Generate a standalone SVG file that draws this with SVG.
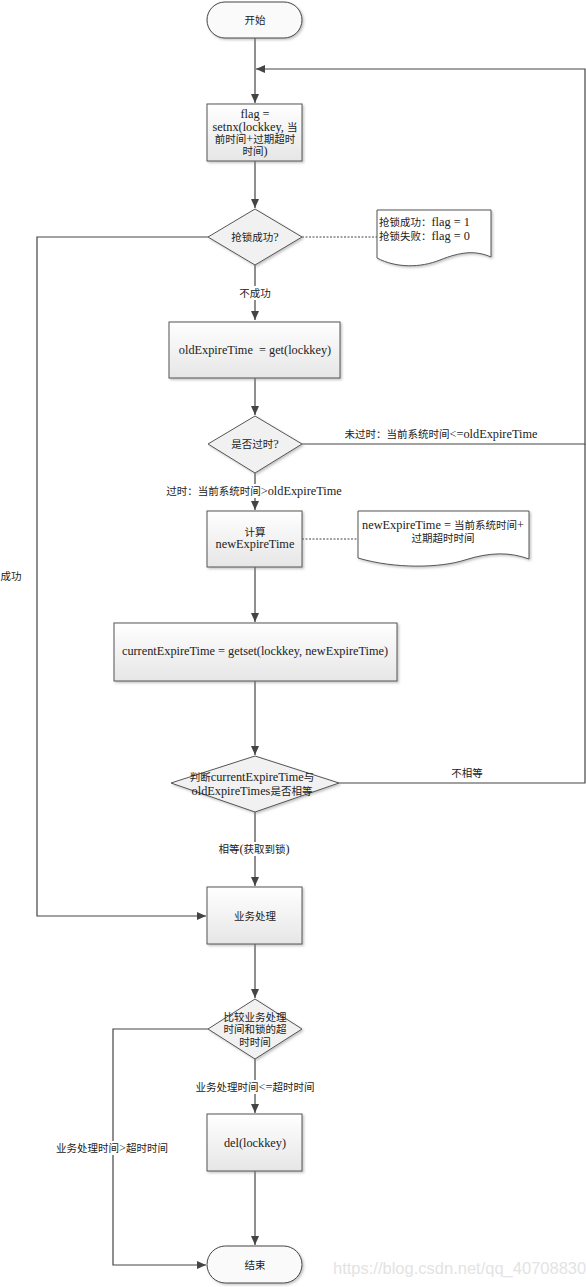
<svg xmlns="http://www.w3.org/2000/svg" width="586" height="1287" viewBox="0 0 586 1287">
<style>
text{font-family:"Liberation Serif","Noto Sans CJK SC",serif;font-size:10.5px;fill:#222;text-anchor:middle;dominant-baseline:central}
.e{font-size:12.3px}
.box{fill:url(#g);stroke:#555;stroke-width:1;filter:url(#sh)}
.dia{fill:#f1f1f1;stroke:#555;stroke-width:1;filter:url(#sh)}
.term{fill:#fafafa;stroke:#444;stroke-width:1;filter:url(#sh)}
.note{fill:#fff;stroke:#555;stroke-width:1;filter:url(#sh)}
.ln{fill:none;stroke:#444;stroke-width:1.2}
.arr{marker-end:url(#ah)}
.dash{fill:none;stroke:#444;stroke-width:1;stroke-dasharray:2,1.5}
.bg{fill:#fff}
.l{text-anchor:start}
.wm{font-family:"Liberation Sans","DejaVu Sans",sans-serif;font-size:16.5px;fill:#e3e3e3;text-anchor:start}
</style>
<defs>
<linearGradient id="g" x1="0" y1="0" x2="0" y2="1"><stop offset="0" stop-color="#ffffff"/><stop offset="1" stop-color="#e6e6e6"/></linearGradient>
<filter id="sh" x="-10%" y="-10%" width="130%" height="130%"><feDropShadow dx="1.5" dy="1.5" stdDeviation="1" flood-color="#888" flood-opacity="0.5"/></filter>
<marker id="ah" markerWidth="10" markerHeight="10" refX="9" refY="5" orient="auto" markerUnits="userSpaceOnUse"><path d="M0,1 L9,5 L0,9 Z" fill="#444"/></marker>
</defs>
<g id="connectors">
<path class="ln arr" d="M255,38 V103"/>
<path class="ln arr" d="M302,444 H585 V69 H256"/>
<path class="ln" d="M339,783 H585 V444"/>
<path class="ln arr" d="M255,161 V208"/>
<path class="ln arr" d="M255,265 V320"/>
<path class="ln arr" d="M208,237 H37 V916 H206"/>
<path class="dash" d="M302,237 H377"/>
<path class="ln arr" d="M255,378 V415"/>
<path class="ln arr" d="M255,473 V510"/>
<path class="dash" d="M302,539 H358"/>
<path class="ln arr" d="M255,567 V622"/>
<path class="ln arr" d="M255,681 V755"/>
<path class="ln arr" d="M255,812 V886"/>
<path class="ln arr" d="M255,944 V998"/>
<path class="ln arr" d="M255,1059 V1113"/>
<path class="ln arr" d="M208,1029 H113 V1265 H206"/>
<path class="ln arr" d="M255,1171 V1245"/>
</g>
<g id="labels">
<rect class="bg" x="236" y="286" width="38" height="14"/>
<text x="255" y="293">不成功</text>
<text x="11" y="576">成功</text>
<text x="441" y="434">未过时：当前系统时间<tspan class="e">&lt;=oldExpireTime</tspan></text>
<rect class="bg" x="165" y="484" width="179" height="14"/>
<text x="254" y="491">过时：当前系统时间<tspan class="e">&gt;oldExpireTime</tspan></text>
<text x="467" y="773">不相等</text>
<rect class="bg" x="218" y="842" width="73" height="14"/>
<text x="254" y="849">相等<tspan class="e">(</tspan>获取到锁<tspan class="e">)</tspan></text>
<rect class="bg" x="194" y="1080" width="122" height="14"/>
<text x="255" y="1087">业务处理时间<tspan class="e">&lt;=</tspan>超时时间</text>
<rect class="bg" x="55" y="1141" width="115" height="14"/>
<text x="112" y="1148">业务处理时间<tspan class="e">&gt;</tspan>超时时间</text>
</g>
<g id="start"><rect class="term" x="207" y="2" width="95" height="36" rx="18"/><text x="255" y="20">开始</text></g>
<g id="setnx"><rect class="box" x="207" y="104" width="95" height="57"/>
<text class="e" x="255" y="114">flag =</text><text x="255" y="127"><tspan class="e">setnx(lockkey, </tspan>当</text><text x="255" y="139">前时间<tspan class="e">+</tspan>过期超时</text><text x="255" y="151">时间<tspan class="e">)</tspan></text></g>
<g id="d1"><polygon class="dia" points="255,209 302,237 255,265 208,237"/><text x="255" y="237">抢锁成功<tspan class="e">?</tspan></text></g>
<g id="note1"><path class="note" d="M377,210 H491 V257 C475,250 460,252 440,260 C420,268 396,268 377,258 Z"/>
<text class="l" x="379" y="222">抢锁成功：<tspan class="e">flag = 1</tspan></text><text class="l" x="379" y="236">抢锁失败：<tspan class="e">flag = 0</tspan></text></g>
<g id="get"><rect class="box" x="169" y="322" width="171" height="56"/><text class="e" x="255" y="350" xml:space="preserve">oldExpireTime  = get(lockkey)</text></g>
<g id="d2"><polygon class="dia" points="255,416 302,444 255,473 208,444"/><text x="255" y="444">是否过时<tspan class="e">?</tspan></text></g>
<g id="calc"><rect class="box" x="207" y="511" width="95" height="56"/><text x="255" y="532">计算</text><text class="e" x="255" y="544">newExpireTime</text></g>
<g id="note2"><path class="note" d="M358,511 H529 V559 C510,552 490,552 465,560 C440,568 395,569 358,558 Z"/>
<text x="443" y="525"><tspan class="e">newExpireTime = </tspan>当前系统时间<tspan class="e">+</tspan></text><text x="443" y="538">过期超时时间</text></g>
<g id="getset"><rect class="box" x="114" y="623" width="283" height="58"/><text class="e" x="255" y="651">currentExpireTime = getset(lockkey, newExpireTime)</text></g>
<g id="d3"><polygon class="dia" points="255,756 339,783 255,812 171,783"/><text x="252" y="777">判断<tspan class="e">currentExpireTime</tspan>与</text><text x="252" y="791"><tspan class="e">oldExpireTimes</tspan>是否相等</text></g>
<g id="biz"><rect class="box" x="207" y="887" width="95" height="57"/><text x="255" y="916">业务处理</text></g>
<g id="d4"><polygon class="dia" points="255,999 302,1029 255,1059 208,1029"/><text x="255" y="1017">比较业务处理</text><text x="255" y="1029">时间和锁的超</text><text x="255" y="1042">时时间</text></g>
<g id="del"><rect class="box" x="207" y="1114" width="95" height="57"/><text class="e" x="255" y="1143">del(lockkey)</text></g>
<g id="end"><rect class="term" x="207" y="1246" width="95" height="37" rx="18.5"/><text x="255" y="1265">结束</text></g>
<text class="wm" x="333" y="1268">https://blog.csdn.net/qq_40708830</text>
</svg>
